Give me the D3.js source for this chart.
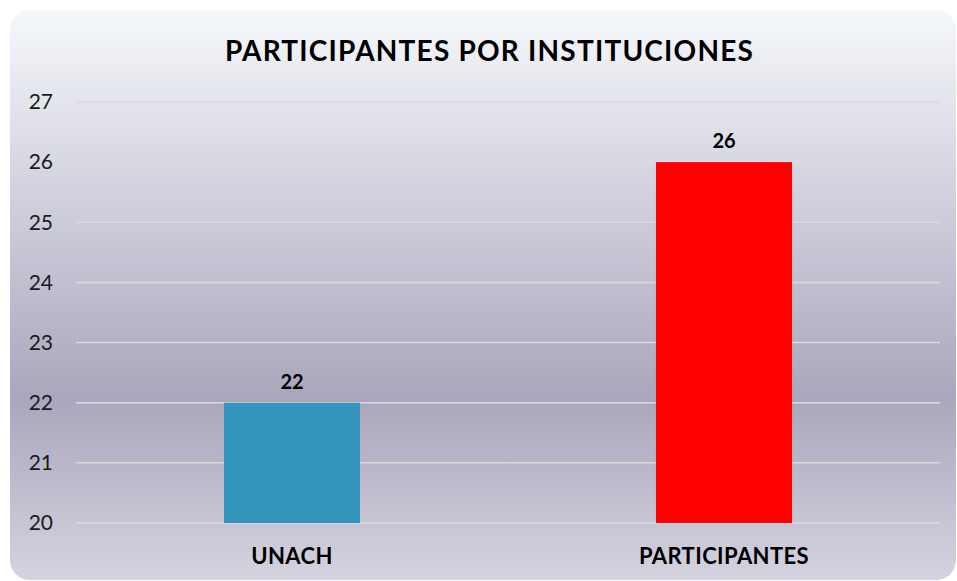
<!DOCTYPE html>
<meta charset="utf-8">
<title>participantes por instituciones</title>
<style>
body { margin: 0; background: #ffffff; }
svg { display: block; }
</style>
<script src="https://d3js.org/d3.v7.min.js"></script>
<body>
<script>
// Chart data
var categories = ["UNACH", "PARTICIPANTES"];
var values = [22, 26];
var barColors = ["#3494ba", "#ff0000"];
var yTicks = [20, 21, 22, 23, 24, 25, 26, 27];
var titleText = "PARTICIPANTES POR INSTITUCIONES";

var width = 957, height = 581;
var fontFam = "'Lato', 'DejaVu Sans', sans-serif";

var svg = d3.select("body").append("svg")
    .attr("width", width)
    .attr("height", height);

// background gradient
var defs = svg.append("defs");
var grad = defs.append("linearGradient")
    .attr("id", "bg")
    .attr("x1", 0).attr("y1", 0).attr("x2", 0).attr("y2", 1);
grad.append("stop").attr("offset", "0%").attr("stop-color", "#f5f8fb");
grad.append("stop").attr("offset", "68%").attr("stop-color", "#aaa6bd");
grad.append("stop").attr("offset", "100%").attr("stop-color", "#d5d3df");

svg.append("rect")
    .attr("x", 10).attr("y", 10)
    .attr("width", 946).attr("height", 570)
    .attr("rx", 20).attr("ry", 20)
    .attr("fill", "url(#bg)");

// scales
var margin = {left: 76, right: 17, top: 102, bottom: 58};
var x = d3.scaleBand()
    .domain(categories)
    .range([margin.left, width - margin.right])
    .paddingInner(0.685)
    .paddingOuter(0.3425);
var y = d3.scaleLinear()
    .domain([20, 27])
    .range([height - margin.bottom, margin.top]);

// gridlines
svg.append("g")
  .selectAll("line")
    .data(yTicks)
  .enter().append("line")
    .attr("x1", margin.left)
    .attr("x2", width - margin.right)
    .attr("y1", function(d) { return y(d); })
    .attr("y2", function(d) { return y(d); })
    .attr("stroke", "#dadada")
    .attr("stroke-width", 1.5);

// y axis labels
svg.append("g")
  .selectAll("text")
    .data(yTicks)
  .enter().append("text")
    .attr("x", 53)
    .attr("y", function(d) { return y(d); })
    .attr("dy", "0.35em")
    .attr("text-anchor", "end")
    .style("font-family", fontFam)
    .style("font-size", "21px")
    .attr("fill", "#1a1a1a")
    .text(function(d) { return d; });

// bars
svg.append("g")
  .selectAll("rect")
    .data(values)
  .enter().append("rect")
    .attr("x", function(d, i) { return x(categories[i]); })
    .attr("width", x.bandwidth())
    .attr("y", function(d) { return y(d); })
    .attr("height", function(d) { return y(20) - y(d); })
    .attr("fill", function(d, i) { return barColors[i]; });

// value labels
svg.append("g")
  .selectAll("text")
    .data(values)
  .enter().append("text")
    .attr("x", function(d, i) { return x(categories[i]) + x.bandwidth() / 2; })
    .attr("y", function(d) { return y(d) - 14; })
    .attr("text-anchor", "middle")
    .style("font-family", fontFam)
    .style("font-size", "20px")
    .style("font-weight", "bold")
    .attr("fill", "#000")
    .text(function(d) { return d; });

// category labels
svg.append("g")
  .selectAll("text")
    .data(categories)
  .enter().append("text")
    .attr("x", function(d) { return x(d) + x.bandwidth() / 2; })
    .attr("y", 564)
    .attr("text-anchor", "middle")
    .style("font-family", fontFam)
    .style("font-size", "22px")
    .style("font-weight", "bold")
    .style("letter-spacing", "0.4px")
    .attr("fill", "#000")
    .text(function(d) { return d; });

// title
svg.append("text")
    .attr("x", 489.5)
    .attr("y", 61)
    .attr("text-anchor", "middle")
    .style("font-family", fontFam)
    .style("font-size", "28px")
    .style("font-weight", "bold")
    .style("letter-spacing", "1.2px")
    .attr("fill", "#000")
    .text(titleText);
</script>
